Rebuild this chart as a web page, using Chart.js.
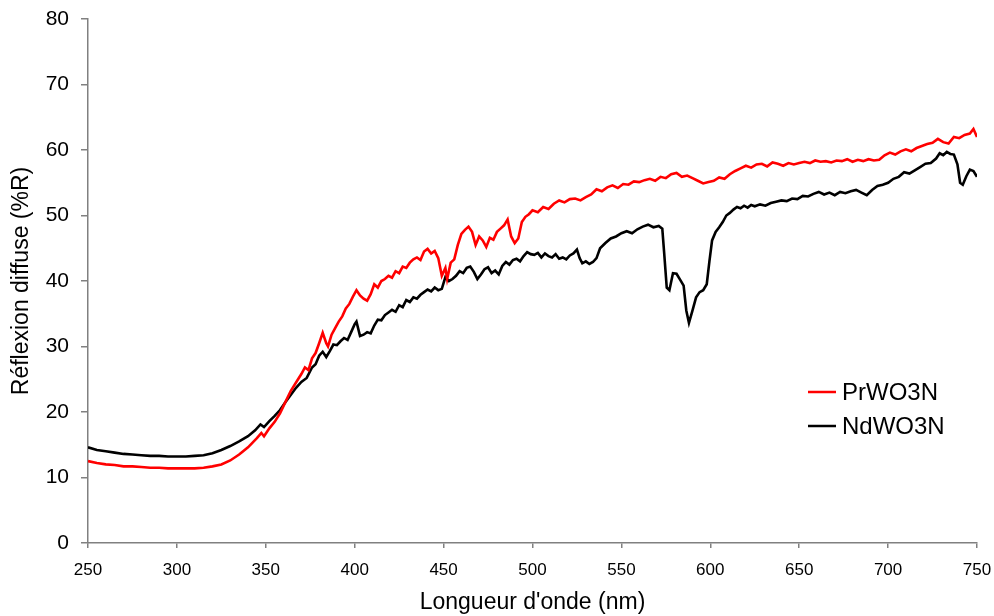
<!DOCTYPE html>
<html>
<head>
<meta charset="utf-8">
<script src="https://cdn.jsdelivr.net/npm/chart.js@4/dist/chart.umd.min.js"></script>
<style>
  html, body { margin: 0; padding: 0; background: #fff; }
  #wrap { width: 994px; height: 616px; position: relative; }
</style>
</head>
<body>
<div id="wrap"><canvas id="reflChart"></canvas></div>
<script>
// wavelength (nm) and diffuse reflectance (%R)
const prX = [250,255,260,265,270,275,280,285,290,295,300,305,310,315,320,325,330,335,340,345,347.5,349,352,355,358,361,364,367,370,372,374,376,378,380,382,384,385,387,389,391,393,395,397,399,401,403,405,407,409,411,413,415,417,419,421,423,425,427,429,431,433,435,437,439,441,443,445,447,449,451,452,454,456,458,460,462,464,466,468,470,472,474,476,478,480,482,484,486,488,490,492,494,496,498,500,503,506,509,512,515,518,521,524,527,530,533,536,539,542,545,548,551,554,557,560,563,566,569,572,575,578,581,584,587,590,593,596,599,602,605,608,611,614,617,620,623,626,629,632,635,638,641,644,647,650,653,656,659,662,665,668,671,674,677,680,683,686,689,692,695,698,701,704,707,710,713,716,719,722,725,728,731,734,737,740,743,746,748,750];
const prY = [12.5,12.2,12.0,11.9,11.7,11.7,11.6,11.5,11.5,11.4,11.4,11.4,11.4,11.5,11.7,12.0,12.6,13.5,14.6,16.0,16.8,16.3,17.5,18.5,19.8,21.5,23.2,24.5,25.8,26.8,26.4,28.2,29.0,30.5,32.1,30.5,30.0,31.8,32.8,33.8,34.6,35.8,36.5,37.6,38.6,37.8,37.3,37.0,38.0,39.5,39.0,40.0,40.3,40.8,40.5,41.5,41.2,42.2,42.0,42.8,43.3,43.6,43.2,44.5,44.9,44.2,44.6,43.5,40.8,42.0,40.3,42.8,43.3,45.5,47.2,47.8,48.3,47.5,45.5,46.8,46.2,45.2,46.6,46.3,47.5,48.0,48.5,49.4,46.8,45.8,46.5,49.0,49.8,50.2,50.8,50.5,51.3,51.0,51.8,52.3,52.0,52.5,52.6,52.3,52.8,53.2,54.0,53.7,54.3,54.6,54.2,54.8,54.7,55.2,55.1,55.4,55.6,55.3,55.9,55.7,56.3,56.5,55.9,56.1,55.7,55.3,54.9,55.1,55.3,55.8,55.6,56.3,56.8,57.2,57.6,57.3,57.8,57.9,57.5,58.1,57.9,57.6,58.0,57.8,58.0,58.2,58.0,58.4,58.2,58.3,58.1,58.4,58.3,58.6,58.2,58.5,58.3,58.6,58.4,58.5,59.2,59.6,59.3,59.8,60.1,59.8,60.3,60.6,60.9,61.1,61.7,61.2,61.0,62.0,61.8,62.3,62.5,63.2,62.0];

const ndX = [250,255,260,265,270,275,280,285,290,295,300,305,310,315,320,325,330,335,340,344,347,349,352,355,358,361,364,367,370,373,376,378,380,382,384,386,388,390,392,394,396,398,400,401,403,405,407,409,411,413,415,417,419,421,423,425,427,429,431,433,435,437,439,441,443,445,447,449,451,453,455,457,459,461,463,465,467,469,471,473,475,477,479,481,483,485,487,489,491,493,495,497,499,501,503,505,507,509,511,513,515,517,519,521,523,525,526.5,528,530,532,534,536,538,541,544,547,550,553,556,559,562,565,568,571,573,574,575.5,577,579,581,583,585,586.5,588,590,592,594,596,598,599.5,601,603,605,607,609,611,613,615,617,619,621,623,625,628,631,634,637,640,643,646,649,652,655,658,661,664,667,670,673,676,679,682,685,688,691,694,697,700,703,706,709,712,715,718,721,724,727,729,731,733,735,737,739,740.5,742,744,746,748,750];
const ndY = [14.6,14.2,14.0,13.8,13.6,13.5,13.4,13.3,13.3,13.2,13.2,13.2,13.3,13.4,13.7,14.2,14.8,15.5,16.3,17.2,18.1,17.7,18.6,19.4,20.3,21.5,22.6,23.7,24.6,25.2,26.8,27.3,28.6,29.2,28.4,29.3,30.3,30.2,30.8,31.3,31.0,32.2,33.4,33.8,31.6,31.8,32.2,32.0,33.2,34.1,34.0,34.8,35.2,35.6,35.3,36.3,36.0,37.1,36.8,37.5,37.3,37.9,38.3,38.7,38.4,39.0,38.6,38.8,40.6,40.0,40.3,40.8,41.5,41.2,42.0,42.2,41.4,40.3,41.0,41.8,42.1,41.2,41.6,41.0,42.3,42.9,42.5,43.2,43.4,43.0,43.8,44.4,44.1,44.0,44.3,43.6,44.2,43.8,43.6,44.1,43.4,43.6,43.3,43.9,44.2,44.8,43.5,42.7,43.0,42.6,42.9,43.5,45.0,45.8,46.5,46.8,47.3,47.6,47.3,47.9,48.3,48.6,48.2,48.4,48.0,44.5,39.0,38.6,41.2,41.1,40.2,39.3,35.5,33.6,35.5,37.5,38.3,38.6,39.5,43.0,46.2,47.5,48.2,49.0,50.0,50.4,50.9,51.3,51.1,51.5,51.2,51.6,51.4,51.7,51.5,51.9,52.1,52.3,52.2,52.6,52.5,53.0,52.9,53.3,53.6,53.2,53.5,53.1,53.6,53.4,53.7,53.9,53.5,53.1,53.9,54.5,54.7,55.0,55.6,55.9,56.6,56.4,56.9,57.4,57.9,58.0,58.7,59.5,59.2,59.7,59.4,59.3,57.8,55.0,54.7,56.0,57.0,56.8,55.9];

const seriesNames = ["PrWO3N", "NdWO3N"];
const seriesColors = ["#ff0000", "#000000"];
const xTicks = [250, 300, 350, 400, 450, 500, 550, 600, 650, 700, 750];
const yTicks = [0, 10, 20, 30, 40, 50, 60, 70, 80];

const FONT = "'Liberation Sans', Arial, sans-serif";
const AXIS_GREY = "#808080";

function toPoints(xs, ys) {
  return xs.map((x, i) => ({ x: x, y: ys[i] }));
}

// legend drawn inside the plot, like the original
const insideLegend = {
  id: "insideLegend",
  afterDraw(chart) {
    const ctx = chart.ctx;
    ctx.save();
    ctx.font = "24px " + FONT;
    ctx.textBaseline = "middle";
    chart.data.datasets.forEach((ds, i) => {
      const y = 392 + i * 34;
      ctx.strokeStyle = ds.borderColor;
      ctx.lineWidth = 2.5;
      ctx.beginPath();
      ctx.moveTo(808, y);
      ctx.lineTo(836, y);
      ctx.stroke();
      ctx.fillStyle = "#000";
      ctx.fillText(ds.label, 842, y + 1);
    });
    ctx.restore();
  }
};

const ctx = document.getElementById("reflChart").getContext("2d");
new Chart(ctx, {
  type: "line",
  data: {
    datasets: [
      {
        label: seriesNames[0],
        data: toPoints(prX, prY),
        borderColor: seriesColors[0],
        borderWidth: 2.6,
        pointRadius: 0,
        tension: 0,
      },
      {
        label: seriesNames[1],
        data: toPoints(ndX, ndY),
        borderColor: seriesColors[1],
        borderWidth: 2.6,
        pointRadius: 0,
        tension: 0,
      },
    ],
  },
  options: {
    responsive: true,
    maintainAspectRatio: false,
    animation: false,
    layout: { padding: { top: 19, right: 17, left: 0, bottom: 0 } },
    plugins: {
      legend: { display: false },
      tooltip: { enabled: false },
    },
    scales: {
      x: {
        type: "linear",
        min: 250,
        max: 750,
        afterBuildTicks: (scale) => { scale.ticks = xTicks.map((v) => ({ value: v })); },
        afterFit: (scale) => {
          scale.height = 73;
          scale.paddingLeft = 0;
          scale.paddingRight = 0;
        },
        ticks: { color: "#000", font: { family: FONT, size: 17 }, padding: 12, maxRotation: 0 },
        grid: { drawOnChartArea: false, drawTicks: true, tickLength: 5, color: AXIS_GREY, lineWidth: 1.5 },
        border: { color: AXIS_GREY, width: 1.5 },
        title: { display: true, text: "Longueur d'onde (nm)", color: "#000", font: { family: FONT, size: 23 }, padding: { top: 0, bottom: 0 } },
      },
      y: {
        min: 0,
        max: 80,
        afterBuildTicks: (scale) => { scale.ticks = yTicks.map((v) => ({ value: v })); },
        afterFit: (scale) => {
          scale.width = 88;
          scale.paddingTop = 0;
          scale.paddingBottom = 0;
        },
        ticks: { color: "#000", font: { family: FONT, size: 21 }, padding: 12 },
        grid: { drawOnChartArea: false, drawTicks: true, tickLength: 7, color: AXIS_GREY, lineWidth: 1.5 },
        border: { color: AXIS_GREY, width: 1.5 },
        title: { display: true, text: "Réflexion diffuse (%R)", color: "#000", font: { family: FONT, size: 23 }, padding: { top: 8, bottom: 0 } },
      },
    },
  },
  plugins: [insideLegend],
});
</script>
</body>
</html>
